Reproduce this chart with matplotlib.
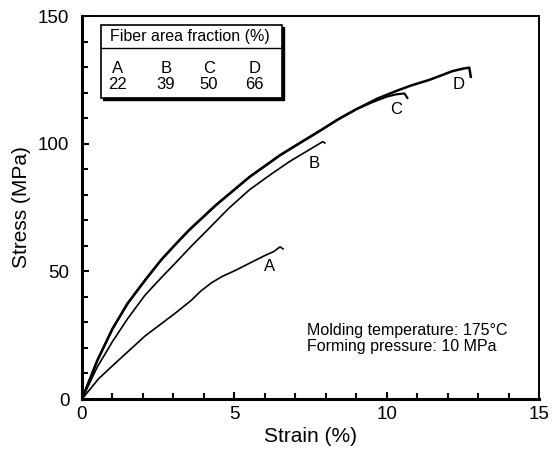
import matplotlib.pyplot as plt
from matplotlib.patches import Rectangle
from matplotlib.ticker import MultipleLocator

plt.rcParams["font.family"] = ["Liberation Sans", "DejaVu Sans"]

# stress-strain curves (strain in %, stress in MPa)
strain_a = [0, 0.55, 1.09, 2.07, 3.06, 3.6, 3.9, 4.26, 4.6, 5.02, 5.5, 6.0, 6.3, 6.5, 6.6]
stress_a = [0, 8, 14, 24.7, 33.6, 38.8, 42.3, 45.6, 48.0, 50.3, 53.2, 56.2, 57.8, 59.6, 58.8]

strain_b = [0, 0.5, 1.0, 1.5, 2.07, 2.6, 3.06, 3.6, 4.1, 4.8, 5.5, 6.2, 6.81, 7.3, 7.9, 7.97]
stress_b = [0, 12.5, 22.5, 31.5, 40.7, 47.5, 53.2, 60, 66, 74.5, 82, 88, 93, 96.5, 100.8, 100.3]

strain_c = [0, 0.5, 1.0, 1.5, 2.1, 2.6, 3.0, 3.5, 4.4, 5.5, 6.5, 7.14, 7.8, 8.4, 9.0, 9.6,
            10.0, 10.3, 10.58, 10.68]
stress_c = [0, 15, 27.5, 37.5, 47, 54.5, 59.7, 66, 76, 87, 95.5, 100.2, 105, 109.5, 113.5, 116.6,
            118.4, 119.3, 119.7, 117.9]

strain_d = [0, 0.5, 1.0, 1.5, 2.1, 2.6, 3.0, 3.5, 4.4, 5.5, 6.5, 7.14, 7.8, 8.4, 9.0, 9.7,
            10.3, 10.8, 11.4, 11.8, 12.15, 12.5, 12.71, 12.76]
stress_d = [0, 15, 27.5, 37.5, 47, 54.5, 59.7, 66, 76, 87, 95.5, 100.2, 105, 109.5, 113.5, 117.7,
            120.6, 122.8, 125, 126.8, 128.4, 129.4, 129.8, 126.2]

fiber_labels = ["A", "B", "C", "D"]
fiber_fraction = [22, 39, 50, 66]

fig = plt.figure(figsize=(5.54, 4.5), dpi=100)
ax = fig.add_axes([0.148, 0.1133, 0.825, 0.851])

ax.plot(strain_a, stress_a, color="black", lw=1.2)
ax.plot(strain_b, stress_b, color="black", lw=1.2)
ax.plot(strain_c, stress_c, color="black", lw=1.5)
ax.plot(strain_d, stress_d, color="black", lw=1.8)

# curve labels
for lab, (x, y) in zip(fiber_labels, [(6.17, 52.0), (7.63, 92.4), (10.31, 113.5), (12.36, 123.3)]):
    ax.text(x, y, lab, fontsize=12, ha="center", va="center")

ax.set_xlim(0, 15)
ax.set_ylim(0, 150)
ax.xaxis.set_major_locator(MultipleLocator(5))
ax.xaxis.set_minor_locator(MultipleLocator(1))
ax.yaxis.set_major_locator(MultipleLocator(50))
ax.yaxis.set_minor_locator(MultipleLocator(10))
ax.tick_params(which="both", direction="in", top=False, right=False,
               width=1.5, labelsize=13.5)
ax.tick_params(which="major", length=5)
ax.tick_params(which="minor", length=4)
ax.tick_params(axis="y", pad=9)
ax.tick_params(axis="x", pad=5)

for side in ("left", "bottom"):
    ax.spines[side].set_linewidth(2.2)
for side in ("top", "right"):
    ax.spines[side].set_linewidth(1.4)

ax.set_xlabel("Strain (%)", fontsize=15)
ax.set_ylabel("Stress (MPa)", fontsize=15)
ax.xaxis.set_label_coords(0.5, -0.072)
ax.yaxis.set_label_coords(-0.112, 0.5)

# fiber fraction box with drop shadow
bx0, bx1, by0, by1 = 0.62, 6.55, 117.9, 146.5
ax.add_patch(Rectangle((bx0 + 0.08, by0 - 0.9), bx1 - bx0, by1 - by0,
                       facecolor="black", edgecolor="black", lw=1.0, zorder=3))
ax.add_patch(Rectangle((bx0, by0), bx1 - bx0, by1 - by0,
                       facecolor="white", edgecolor="black", lw=1.2, zorder=4))
ax.plot([bx0, bx1], [137.5, 137.5], color="black", lw=1.0, zorder=5)
ax.text((bx0 + bx1) / 2 - 0.05, 141.9, "Fiber area fraction (%)", fontsize=11.5,
        ha="center", va="center", zorder=6)
for lab, frac, x in zip(fiber_labels, fiber_fraction, [1.18, 2.75, 4.16, 5.67]):
    ax.text(x, 129.6, lab, fontsize=12, ha="center", va="center", zorder=6)
    ax.text(x, 123.0, str(frac), fontsize=12, ha="center", va="center", zorder=6)

ax.text(7.4, 23.7, "Molding temperature: 175\u00b0C\nForming pressure: 10 MPa",
        fontsize=11.5, ha="left", va="center", linespacing=1.05)

fig.savefig("out.png", dpi=100)
